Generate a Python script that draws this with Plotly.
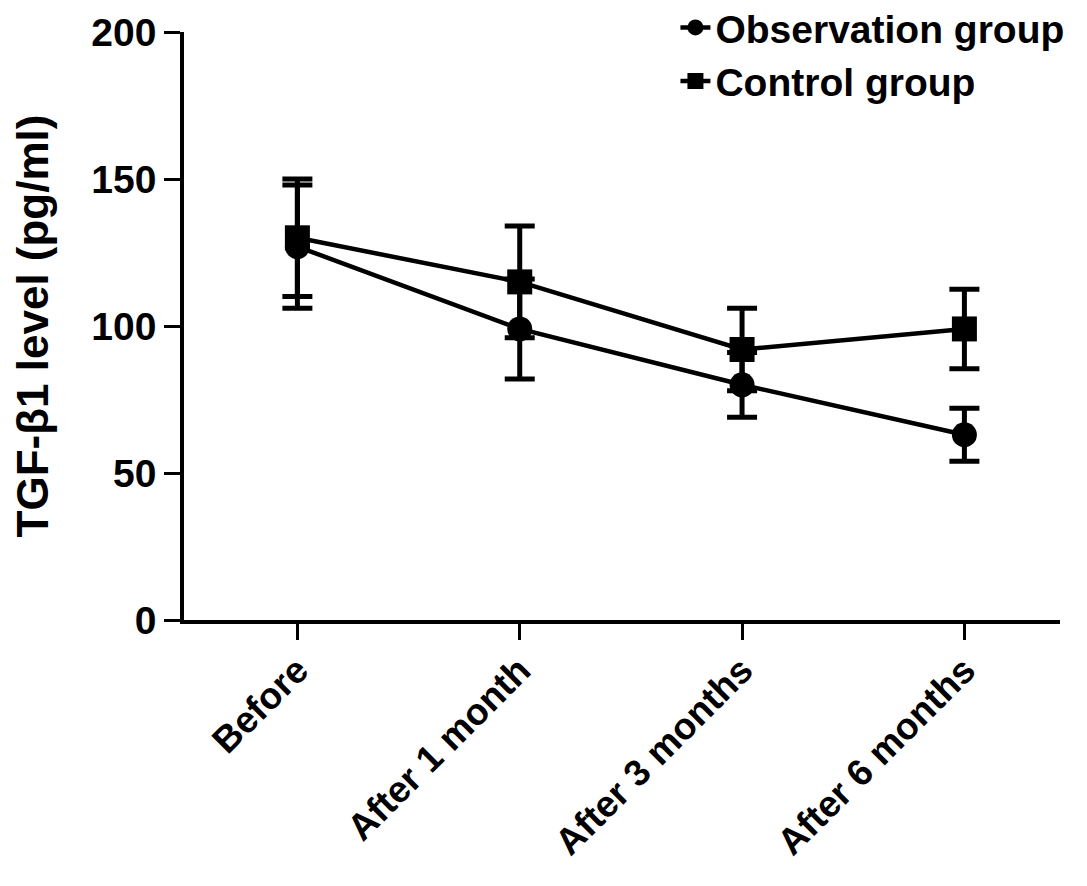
import plotly.graph_objects as go

categories = ["Before", "After 1 month", "After 3 months", "After 6 months"]
obs_mean = [127, 99, 80, 63]
obs_sd = [21, 17, 11, 9]
ctrl_mean = [130, 115, 92, 99]
ctrl_sd = [20, 19, 14, 13.5]
y_ticks = [0, 50, 100, 150, 200]

FONT = "Liberation Sans, Arial, sans-serif"
xs = list(range(len(categories)))

fig = go.Figure()
fig.add_trace(go.Scatter(
    x=xs, y=obs_mean, name="Observation group", mode="lines+markers",
    line=dict(color="black", width=4.5),
    marker=dict(symbol="circle", size=25, color="black"),
    error_y=dict(type="data", array=obs_sd, visible=True, color="black", thickness=5, width=15),
))
fig.add_trace(go.Scatter(
    x=xs, y=ctrl_mean, name="Control group", mode="lines+markers",
    line=dict(color="black", width=4.5),
    marker=dict(symbol="square", size=25, color="black"),
    error_y=dict(type="data", array=ctrl_sd, visible=True, color="black", thickness=5, width=15),
))

fig.update_layout(
    width=1087, height=886,
    margin=dict(l=176, r=35, t=24, b=274, autoexpand=False),
    plot_bgcolor="white", paper_bgcolor="white",
    font=dict(family=FONT, color="black", size=38, weight="bold"),
    showlegend=True,
    legend=dict(
        x=0.561, xanchor="left", y=1.062, yanchor="top",
        font=dict(family=FONT, size=39, color="black", weight="bold"),
        bgcolor="rgba(0,0,0,0)", traceorder="normal",
    ),
)
fig.update_xaxes(
    range=[-0.51, 3.43], tickmode="array", tickvals=xs, ticktext=categories,
    tickangle=-45, showline=True, linecolor="black", linewidth=3.5,
    ticks="outside", ticklen=16, tickwidth=3, tickcolor="black",
    showgrid=False, zeroline=False, ticklabelstandoff=-6,
    tickfont=dict(family=FONT, size=37, color="black", weight="bold"),
)
fig.update_yaxes(
    range=[0, 200], tickmode="array", tickvals=y_ticks,
    showline=True, linecolor="black", linewidth=3.5,
    ticks="outside", ticklen=16, tickwidth=3, tickcolor="black",
    showgrid=False, zeroline=False,
    tickfont=dict(family=FONT, size=39, color="black", weight="bold"),
    title=dict(text="TGF-β1 level (pg/ml)", standoff=44,
               font=dict(family=FONT, size=44, color="black", weight="bold")),
)

fig.write_html("out.html")
